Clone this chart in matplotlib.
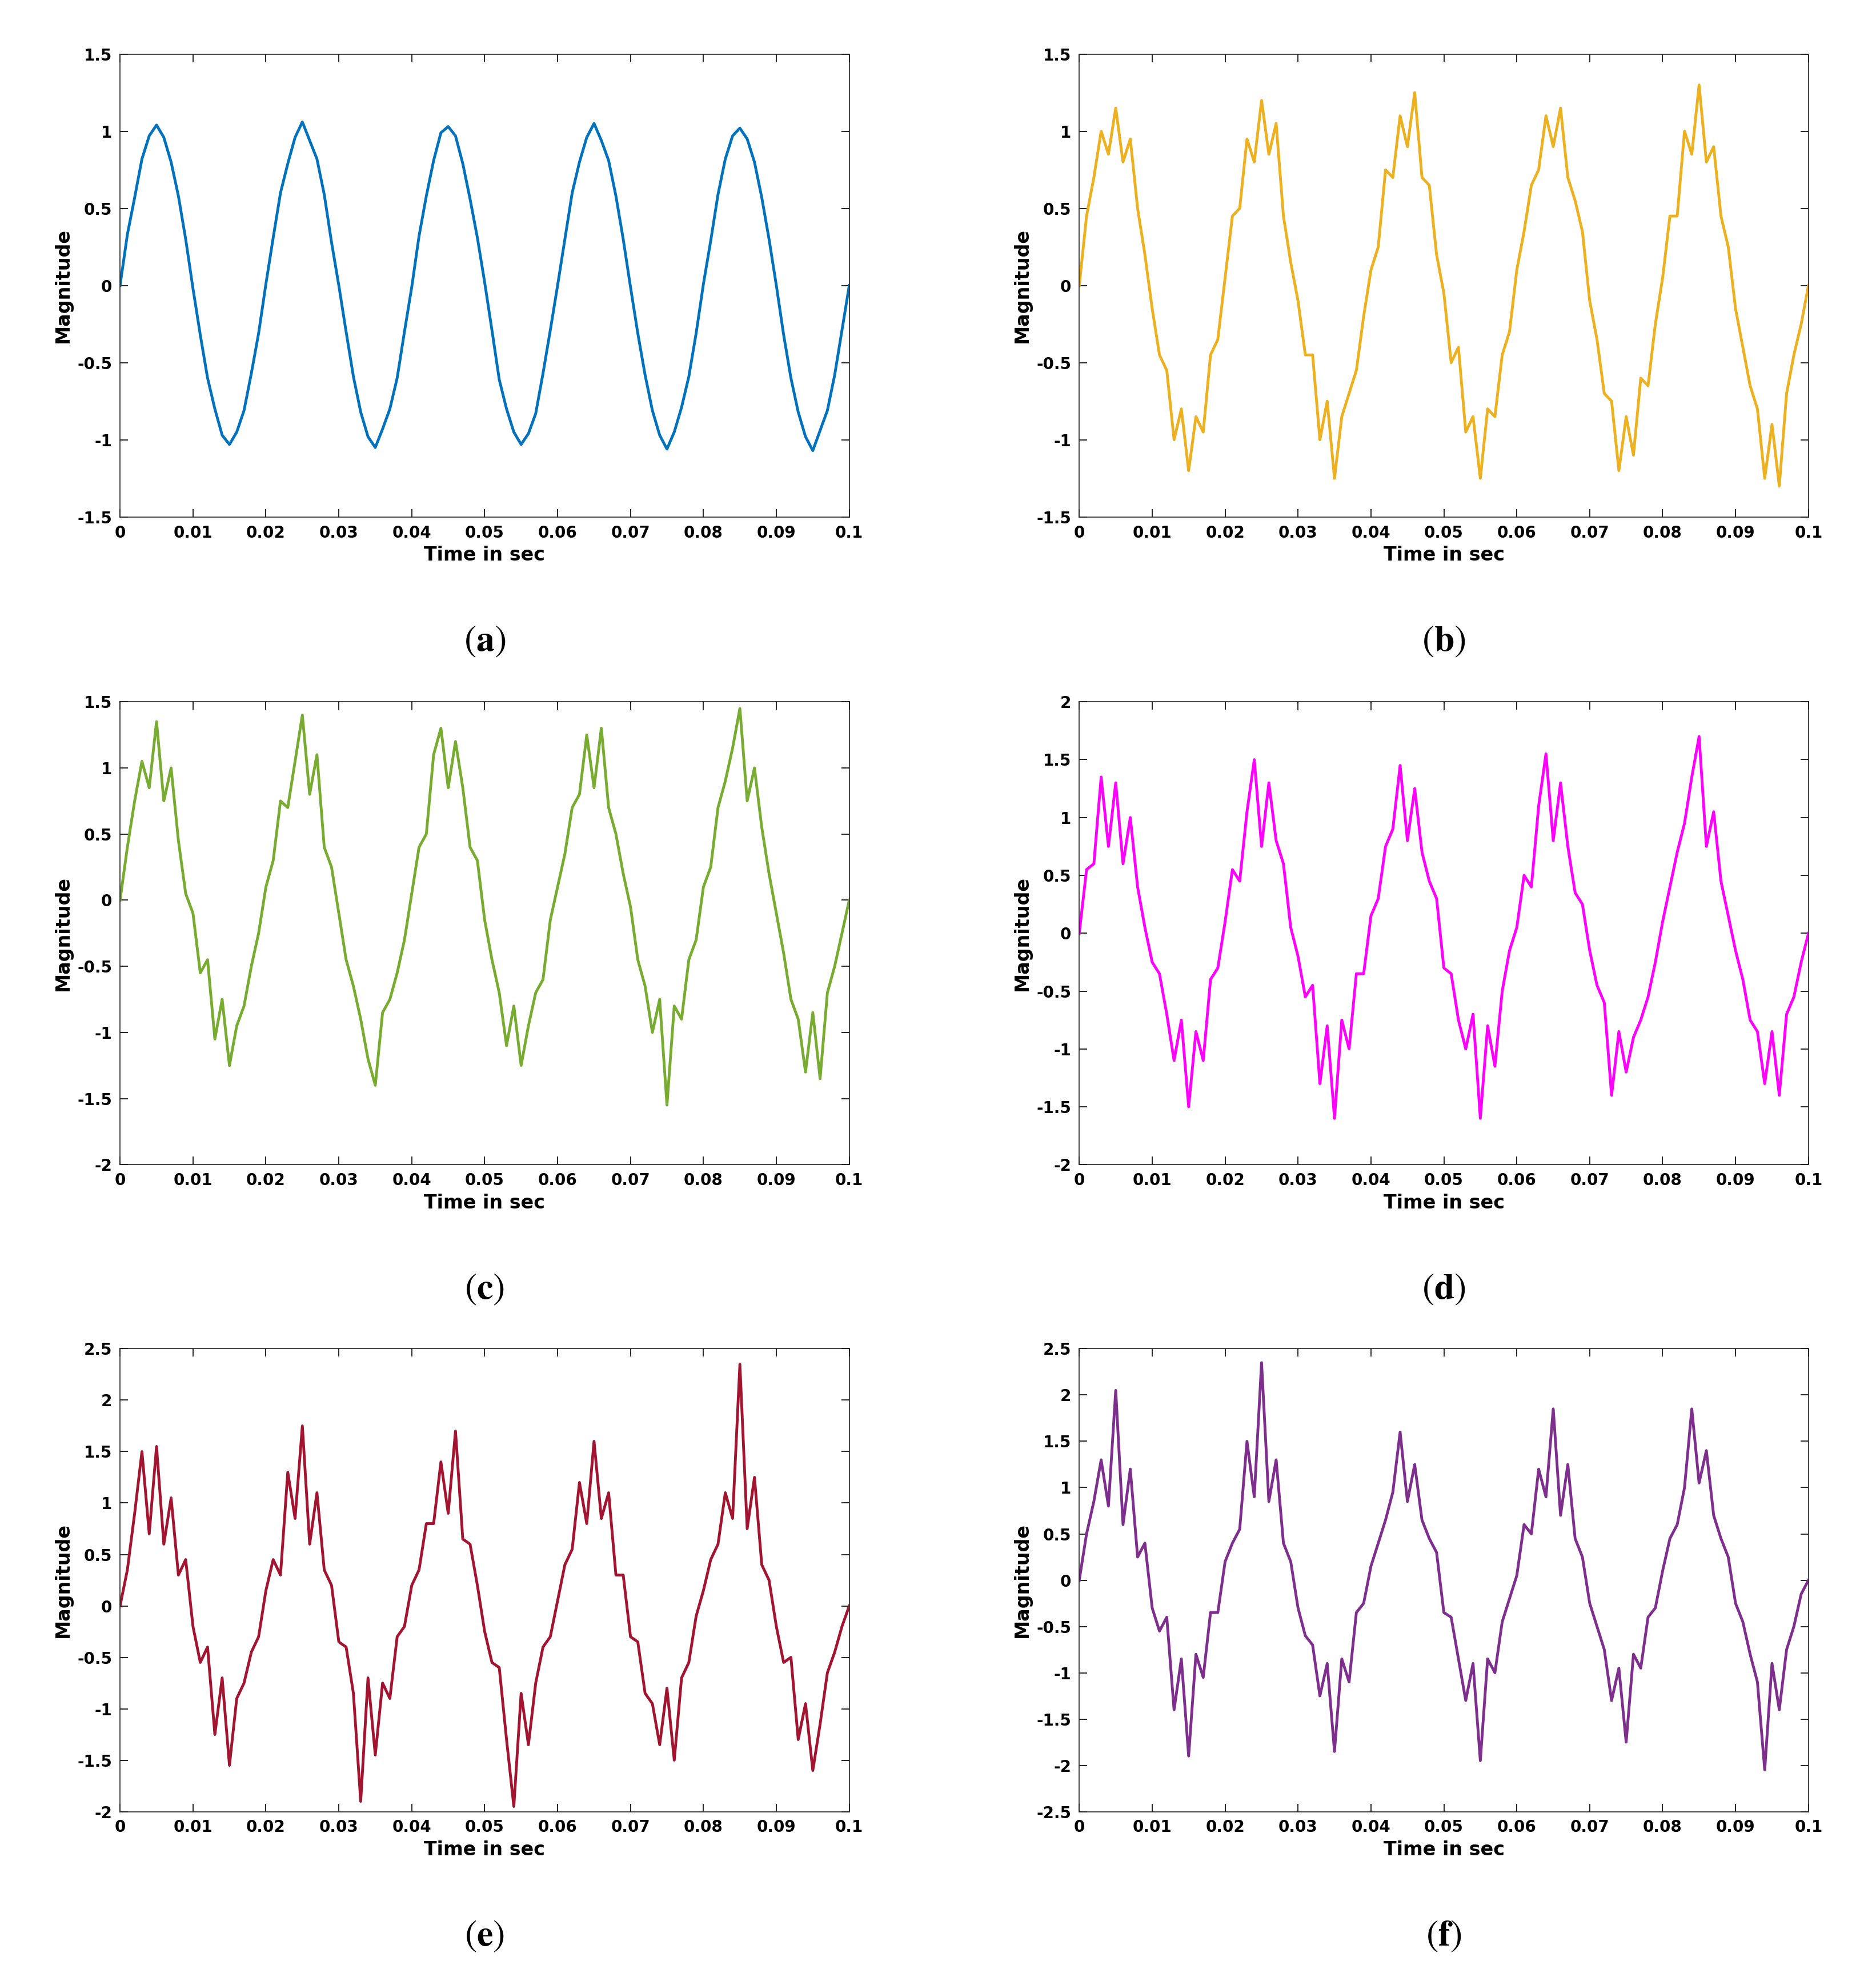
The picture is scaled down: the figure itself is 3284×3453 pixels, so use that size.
import numpy as np
import matplotlib.pyplot as plt
from matplotlib.ticker import FuncFormatter

plt.rcParams['mathtext.fontset'] = 'stix'

sig_a = [0, .33, .57, .82, .97, 1.04, .96, .80, .58, .30,
         -.02, -.32, -.60, -.80, -.97, -1.03, -.95, -.81, -.57, -.31,
         .01, .31, .60, .79, .96, 1.06, .94, .82, .59, .28,
         .00, -.30, -.59, -.82, -.98, -1.05, -.93, -.80, -.60, -.30,
         -.01, .32, .58, .81, .99, 1.03, .97, .79, .56, .31,
         .02, -.29, -.61, -.80, -.95, -1.03, -.96, -.83, -.57, -.29,
         .00, .30, .60, .80, .96, 1.05, .94, .81, .58, .30,
         -.01, -.31, -.58, -.81, -.97, -1.06, -.95, -.79, -.59, -.31,
         .01, .29, .59, .82, .97, 1.02, .95, .80, .57, .30,
         .00, -.32, -.60, -.82, -.98, -1.07, -.94, -.81, -.58, -.29, 0]
sig_b = [0, .45, .70, 1.0, .85, 1.15, .80, .95, .50, .20,
         -.15, -.45, -.55, -1.0, -.80, -1.2, -.85, -.95, -.45, -.35,
         .05, .45, .50, .95, .80, 1.2, .85, 1.05, .45, .15,
         -.10, -.45, -.45, -1.0, -.75, -1.25, -.85, -.70, -.55, -.20,
         .10, .25, .75, .70, 1.1, .90, 1.25, .70, .65, .20,
         -.05, -.50, -.40, -.95, -.85, -1.25, -.80, -.85, -.45, -.30,
         .10, .35, .65, .75, 1.1, .90, 1.15, .70, .55, .35,
         -.10, -.35, -.70, -.75, -1.2, -.85, -1.1, -.60, -.65, -.25,
         .05, .45, .45, 1.0, .85, 1.3, .80, .90, .45, .25,
         -.15, -.40, -.65, -.80, -1.25, -.90, -1.3, -.70, -.45, -.25, 0]
sig_c = [0, .40, .75, 1.05, .85, 1.35, .75, 1.0, .45, .05,
         -.10, -.55, -.45, -1.05, -.75, -1.25, -.95, -.80, -.50, -.25,
         .10, .30, .75, .70, 1.05, 1.40, .80, 1.1, .40, .25,
         -.10, -.45, -.65, -.90, -1.20, -1.40, -.85, -.75, -.55, -.30,
         .05, .40, .50, 1.1, 1.30, .85, 1.20, .85, .40, .30,
         -.15, -.45, -.70, -1.10, -.80, -1.25, -.95, -.70, -.60, -.15,
         .10, .35, .70, .80, 1.25, .85, 1.30, .70, .50, .20,
         -.05, -.45, -.65, -1.0, -.75, -1.55, -.80, -.90, -.45, -.30,
         .10, .25, .70, .90, 1.15, 1.45, .75, 1.0, .55, .20,
         -.10, -.40, -.75, -.90, -1.30, -.85, -1.35, -.70, -.50, -.25, 0]
sig_d = [0, .55, .60, 1.35, .75, 1.30, .60, 1.0, .40, .05,
         -.25, -.35, -.70, -1.1, -.75, -1.50, -.85, -1.10, -.40, -.30,
         .10, .55, .45, 1.05, 1.50, .75, 1.30, .80, .60, .05,
         -.20, -.55, -.45, -1.30, -.80, -1.60, -.75, -1.0, -.35, -.35,
         .15, .30, .75, .90, 1.45, .80, 1.25, .70, .45, .30,
         -.30, -.35, -.75, -1.0, -.70, -1.60, -.80, -1.15, -.50, -.15,
         .05, .50, .40, 1.10, 1.55, .80, 1.30, .75, .35, .25,
         -.15, -.45, -.60, -1.40, -.85, -1.20, -.90, -.75, -.55, -.25,
         .10, .40, .70, .95, 1.35, 1.70, .75, 1.05, .45, .15,
         -.15, -.40, -.75, -.85, -1.30, -.85, -1.40, -.70, -.55, -.25, 0]
sig_e = [0, .35, .90, 1.50, .70, 1.55, .60, 1.05, .30, .45,
         -.20, -.55, -.40, -1.25, -.70, -1.55, -.90, -.75, -.45, -.30,
         .15, .45, .30, 1.30, .85, 1.75, .60, 1.10, .35, .20,
         -.35, -.40, -.85, -1.90, -.70, -1.45, -.75, -.90, -.30, -.20,
         .20, .35, .80, .80, 1.40, .90, 1.70, .65, .60, .20,
         -.25, -.55, -.60, -1.30, -1.95, -.85, -1.35, -.75, -.40, -.30,
         .05, .40, .55, 1.20, .80, 1.60, .85, 1.10, .30, .30,
         -.30, -.35, -.85, -.95, -1.35, -.80, -1.50, -.70, -.55, -.10,
         .15, .45, .60, 1.10, .85, 2.35, .75, 1.25, .40, .25,
         -.20, -.55, -.50, -1.30, -.95, -1.60, -1.15, -.65, -.45, -.20, 0]
sig_f = [0, .50, .85, 1.30, .80, 2.05, .60, 1.20, .25, .40,
         -.30, -.55, -.40, -1.40, -.85, -1.90, -.80, -1.05, -.35, -.35,
         .20, .40, .55, 1.50, .90, 2.35, .85, 1.30, .40, .20,
         -.30, -.60, -.70, -1.25, -.90, -1.85, -.85, -1.10, -.35, -.25,
         .15, .40, .65, .95, 1.60, .85, 1.25, .65, .45, .30,
         -.35, -.40, -.85, -1.30, -.90, -1.95, -.85, -1.00, -.45, -.20,
         .05, .60, .50, 1.20, .90, 1.85, .70, 1.25, .45, .25,
         -.25, -.50, -.75, -1.30, -.95, -1.75, -.80, -.95, -.40, -.30,
         .10, .45, .60, 1.00, 1.85, 1.05, 1.40, .70, .45, .25,
         -.25, -.45, -.80, -1.10, -2.05, -.90, -1.40, -.75, -.50, -.15, 0]

signals = [sig_a, sig_b, sig_c, sig_d, sig_e, sig_f]
colors = ['#0072BD', '#EDB120', '#77AC30', '#FF00FF', '#A2142F', '#7E2F8E']
ylims = [(-1.5, 1.5), (-1.5, 1.5), (-2, 1.5), (-2, 2), (-2, 2.5), (-2.5, 2.5)]
captions = ['a', 'b', 'c', 'd', 'e', 'f']

fig = plt.figure(figsize=(32.84, 34.53), dpi=100)
lefts = [0.064, 0.5753]
bottoms = [0.738, 0.4097, 0.0818]
w, h = 0.3887, 0.2346

for i in range(6):
    r, c = divmod(i, 2)
    ax = fig.add_axes([lefts[c], bottoms[r], w, h])
    t = np.linspace(0, 0.1, len(signals[i]))
    ax.plot(t, signals[i], color=colors[i], linewidth=3.5)
    ax.set_xlim(0, 0.1)
    ax.set_ylim(*ylims[i])
    ax.set_xticks(np.arange(0, 0.1001, 0.01))
    ax.set_yticks(np.arange(ylims[i][0], ylims[i][1] + 0.01, 0.5))
    ax.xaxis.set_major_formatter(FuncFormatter(lambda v, p: '%g' % round(v, 3)))
    ax.yaxis.set_major_formatter(FuncFormatter(lambda v, p: '%g' % round(v, 2)))
    ax.tick_params(direction='in', top=True, right=True, length=10, width=1.2,
                   labelsize=20, pad=10)
    for lab in ax.get_xticklabels() + ax.get_yticklabels():
        lab.set_fontweight('bold')
    for s in ax.spines.values():
        s.set_linewidth(1.2)
        s.set_color('#262626')
    ax.set_xlabel('Time in sec', fontsize=24, fontweight='bold', labelpad=6)
    ax.set_ylabel('Magnitude', fontsize=24, fontweight='bold', labelpad=6)
    fig.text(lefts[c] + w / 2, bottoms[r] - 0.063, r'$(\mathbf{' + captions[i] + '})$',
             ha='center', va='center', fontsize=46)

plt.savefig('out.png', dpi=100)
